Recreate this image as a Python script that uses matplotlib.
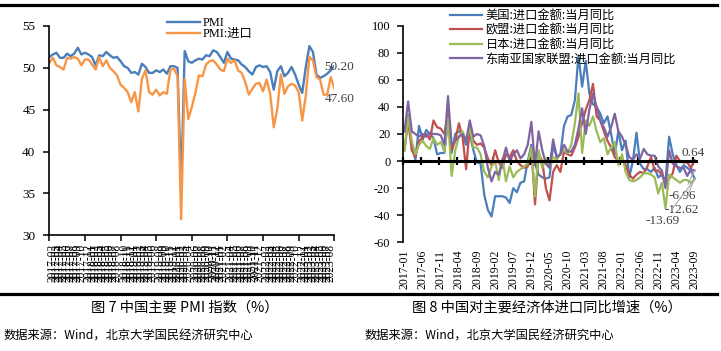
import matplotlib
matplotlib.use("Agg")
import matplotlib.pyplot as plt
import matplotlib.transforms as mtransforms
from matplotlib.lines import Line2D

plt.rcParams['font.family'] = ['Liberation Serif', 'Noto Sans CJK SC']
plt.rcParams['axes.unicode_minus'] = False

# ---------------- data ----------------
months = [f"{y}-{m:02d}" for y in range(2017, 2024) for m in range(1, 13)][:81]

pmi = [51.3, 51.6, 51.8, 51.2, 51.2, 51.7, 51.4, 51.7, 52.4, 51.6, 51.8, 51.6,
       51.3, 50.3, 51.5, 51.4, 51.9, 51.5, 51.2, 51.3, 50.8, 50.2, 50.0, 49.4,
       49.5, 49.2, 50.5, 50.1, 49.4, 49.4, 49.7, 49.5, 49.8, 49.3, 50.2, 50.2,
       50.0, 35.7, 52.0, 50.8, 50.6, 50.9, 51.1, 51.0, 51.5, 51.4, 52.1, 51.9,
       51.3, 50.6, 51.9, 51.1, 51.0, 50.9, 50.4, 50.1, 49.6, 49.2, 50.1, 50.3,
       50.1, 50.2, 49.5, 47.4, 49.6, 50.2, 49.0, 49.4, 50.1, 49.2, 48.0, 47.0,
       50.1, 52.6, 51.9, 49.2, 48.8, 49.0, 49.3, 49.7, 50.2]
pmi_import = [50.6, 51.2, 50.3, 50.1, 49.8, 51.2, 51.1, 51.3, 51.1, 50.3, 51.0, 51.0,
              50.4, 49.8, 51.3, 50.2, 50.9, 50.0, 49.6, 49.1, 48.0, 47.6, 47.1, 45.9,
              47.1, 44.8, 48.7, 49.7, 47.1, 46.8, 47.4, 46.7, 47.1, 46.9, 49.8, 49.9,
              49.0, 31.9, 48.7, 43.9, 45.3, 47.0, 49.1, 49.0, 50.4, 50.8, 50.9, 50.4,
              49.8, 49.6, 51.1, 50.6, 50.9, 49.7, 49.4, 48.3, 46.8, 47.5, 48.1, 48.2,
              47.2, 48.6, 46.9, 42.9, 45.1, 49.2, 46.9, 47.8, 48.1, 47.9, 47.1, 43.7,
              46.7, 51.3, 50.9, 48.9, 48.6, 46.8, 46.8, 48.9, 47.6]

us = [22, 34, 12, 1, 26, 16, 23, 20, 17, 5, 6, 6,
      30, 6, 20, 22, 20, 12, 20, 8, -1, -2, -25, -36,
      -41, -26, -26, -26, -27, -31, -20, -23, -16, -15, 0, 12,
      -2, -10, -12, -13, -12, 12, 3, 5, 26, 33, 34, 45,
      78, 55, 74, 50, 42, 40, 35, 28, 33, 20, 5, 22,
      8, 15, -12, 0, 21, -2, -6, -6, -8, -5, -12, -10,
      -15, 18, 5, -3, -8, -3, -5, -7, -12.62]
eu = [8, 30, 8, 3, 15, 17, 20, 16, 30, 25, 24, 20,
      35, 8, 15, 28, 18, -6, 25, 15, 12, 13, 10, 2,
      -3, 8, -1, -5, 5, 3, 8, 0, -3, -5, -4, 10,
      -32, 5, 0, -20, -29, -8, -3, -8, 7, 5, 4, 10,
      18, 28, 38, 45, 57, 33, 30, 22, 15, 10, 3, 0,
      2, -3, -10, -13, -10, -8, -9, -4, 3, -7, -7, -10,
      -16, -13, -9, 4, 0, -1, -1, -5, 0.64]
japan = [8, 33, 15, 5, 12, 15, 11, 9, 17, 12, 14, 7,
         32, -11, 8, 18, 22, 15, 25, 10, 10, 5, -8, -12,
         -4, 0, -14, 2, -15, -4, -12, -8, -6, -4, -2, 10,
         -26, 8, -5, 2, -5, 3, 1, 5, 8, 6, 12, 28,
         50, 6, 30, 26, 33, 22, 14, 17, 5, 10, 14, -3,
         5, -8, -14, -15, -14, -12, -9, -9, -10, -12, -24, -16,
         -35, -10, -12, -14, -16, -14, -14, -16, -13.69]
asean = [22, 44, 22, 20, 18, 20, 18, 21, 20, 20, 19, 12,
         48, 12, 15, 18, 20, 15, 30, 18, 20, 19, 11, -5,
         -15, -8, -10, 0, 10, 0, 5, 8, 2, 5, 12, 29,
         -3, 22, 8, -2, -5, 16, 3, 5, 12, 7, 7, 12,
         24, 39, 20, 38, 50, 40, 30, 25, 18, 25, 35, 22,
         18, 12, 3, 1, 5, 2, 9, 5, 4, 4, -4, -7,
         -20, 8, -2, -4, -5, -5, -11, -6, -6.96]

left_names = ["PMI", "PMI:进口"]
right_names = ["美国:进口金额:当月同比", "欧盟:进口金额:当月同比",
               "日本:进口金额:当月同比", "东南亚国家联盟:进口金额:当月同比"]

# ---------------- figure ----------------
W, H = 721, 351
fig = plt.figure(figsize=(W / 100, H / 100), dpi=100)

def rect(x0, y0, x1, y1):
    return [x0 / W, 1 - y1 / H, (x1 - x0) / W, (y1 - y0) / H]

CJK = ['Noto Sans CJK SC']
SERIF = ['Liberation Serif', 'Noto Sans CJK SC']

# ---------- left chart ----------
ax1 = fig.add_axes(rect(49.3, 26, 334.3, 235.3))
x = list(range(len(months)))
ax1.plot(x, pmi, color='#4A7EBB', lw=1.7, label=left_names[0], solid_joinstyle='round')
ax1.plot(x, pmi_import, color='#F79646', lw=1.7, label=left_names[1], solid_joinstyle='round')
ax1.set_xlim(0, 80)
ax1.set_ylim(30, 55)
ax1.set_yticks([30, 35, 40, 45, 50, 55])
ax1.set_xticks(range(0, 81, 10))
ax1.set_xticklabels([])
ax1.set_xticks(range(81), minor=True)
ax1.set_xticklabels(months, minor=True, rotation=90, fontsize=8.3, family=SERIF)
ax1.tick_params(axis='x', which='major', direction='out', length=4, width=1.1)
ax1.tick_params(axis='x', which='minor', length=0, pad=6)
ax1.tick_params(axis='y', direction='out', length=4, width=1.1, labelsize=9.5, pad=6)
for s in ['top', 'right']:
    ax1.spines[s].set_visible(False)
for s in ['left', 'bottom']:
    ax1.spines[s].set_linewidth(1.2)
ax1.text(77.3, 50.15, f"{pmi[-1]:.2f}", fontsize=9.5, color='#404040', va='center', ha='left')
ax1.text(77.3, 46.3, f"{pmi_import[-1]:.2f}", fontsize=9.5, color='#404040', va='center', ha='left')
leg1 = ax1.legend(loc='upper left', bbox_to_anchor=(167 / W, 1 - 17 / H),
                  bbox_transform=fig.transFigure, frameon=False,
                  handlelength=2.7, handletextpad=0.25, labelspacing=-0.05,
                  borderpad=0, borderaxespad=0, prop={'family': SERIF, 'size': 8.8})

# ---------- right chart ----------
ax2 = fig.add_axes(rect(402.7, 25.7, 696.3, 242.3))
cols = ['#4A7EBB', '#C0504D', '#9BBB59', '#8064A2']
for series, name, c in zip([us, eu, japan, asean], right_names, cols):
    ax2.plot(x, series, color=c, lw=1.6, label=name, solid_joinstyle='round')
ax2.set_xlim(-0.5, 80.5)
ax2.set_ylim(-60, 100)
ax2.set_yticks(range(-60, 101, 20))
ax2.tick_params(axis='y', direction='out', length=4, width=1.1, labelsize=8.8, pad=5)
ax2.spines['bottom'].set_position(('data', 0))
ax2.spines['bottom'].set_linewidth(2.2)
ax2.spines['left'].set_linewidth(1.2)
for s in ['top', 'right']:
    ax2.spines[s].set_visible(False)
ax2.set_xticks([k - 0.5 for k in range(0, 81, 5)])
ax2.tick_params(axis='x', direction='inout', length=6, width=1.6, labelbottom=False)
blend = mtransforms.blended_transform_factory(ax2.transData, ax2.transAxes)
for i in range(0, 81, 5):
    ax2.text(i, -0.035, months[i], transform=blend, rotation=90, ha='center', va='top',
             fontsize=8.5, family=SERIF)
for t in ax2.get_yticklabels():
    t.set_family(SERIF)

grey = '#A6A6A6'
ax2.text(76.3, 6.0, f"{eu[-1]:.2f}", fontsize=9.5, color='#404040', ha='left', va='center')
ann = [(asean[-1], 76.7, -25.6), (us[-1], 76.6, -36.0), (japan[-1], 71.3, -44.3)]
for v, tx, ty in ann:
    ax2.annotate(f"{v:.2f}", xy=(80, v), xytext=(tx, ty), fontsize=9.5, color='#404040',
                 ha='center', va='center',
                 arrowprops=dict(arrowstyle='-', color=grey, lw=0.8, shrinkA=2, shrinkB=0))
leg2 = ax2.legend(loc='upper left', bbox_to_anchor=(450 / W, 1 - 9 / H),
                  bbox_transform=fig.transFigure, frameon=False,
                  handlelength=2.6, handletextpad=0.3, labelspacing=0.12,
                  borderpad=0, borderaxespad=0, prop={'family': CJK, 'size': 8.8})

# ---------- frame lines & captions ----------
fig.add_artist(Line2D([0, 0.995], [1 - 5 / H, 1 - 5 / H], transform=fig.transFigure,
                      color='black', lw=2.3))
fig.add_artist(Line2D([0, 0.995], [1 - 294 / H, 1 - 294 / H], transform=fig.transFigure,
                      color='black', lw=2.3))
fig.text(185 / W, 1 - 308 / H, "图 7 中国主要 PMI 指数（%）", ha='center', va='center',
         fontsize=10.3, family=CJK)
fig.text(547 / W, 1 - 308 / H, "图 8 中国对主要经济体进口同比增速（%）", ha='center', va='center',
         fontsize=10.3, family=CJK)
fig.text(4 / W, 1 - 336 / H, "数据来源：Wind，北京大学国民经济研究中心", ha='left', va='center',
         fontsize=8.8, family=CJK)
fig.text(365 / W, 1 - 336 / H, "数据来源：Wind，北京大学国民经济研究中心", ha='left', va='center',
         fontsize=8.8, family=CJK)

fig.savefig("out.png", dpi=100)
